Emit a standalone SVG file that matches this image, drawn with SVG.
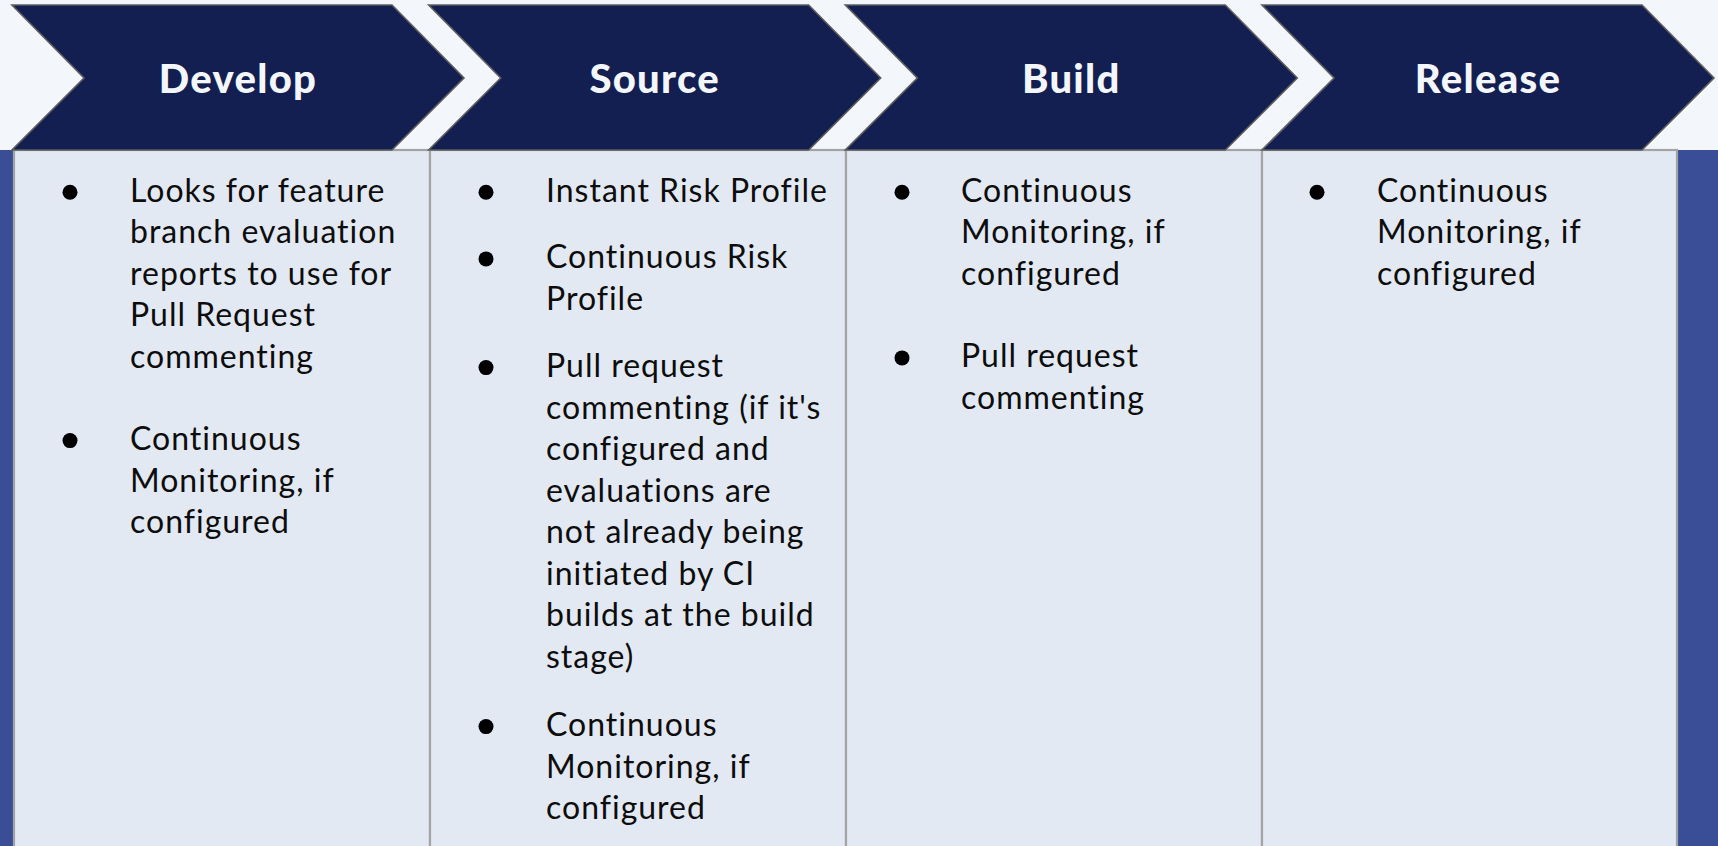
<svg xmlns="http://www.w3.org/2000/svg" width="1718" height="846" viewBox="0 0 1718 846">
<style>
.chev{fill:#131f50;stroke:#5e5e5e;stroke-width:1.6;stroke-linejoin:miter}
.head{font-family:Lato,"Liberation Sans",sans-serif;font-weight:900;font-size:40px;letter-spacing:1.3px;fill:#f3f7fc;text-anchor:middle}
.cell{fill:#e2e9f3;stroke:#a3a3a3;stroke-width:2.2}
.body{font-family:Lato,"Liberation Sans",sans-serif;font-size:32px;letter-spacing:1px;fill:#0d0d0d}
.dot{fill:#000}
</style>
<defs>
<path id="chevshape" d="M0,5 L380,5 L452,78 L380,150 L0,150 L72,78 Z"/>
</defs>
<rect x="0" y="0" width="1718" height="846" fill="#f3f7fc"/>
<rect x="0" y="150" width="1718" height="696" fill="#3a4e97"/>
<g id="connectors"></g>
<g id="col-develop">
<rect class="cell" x="14" y="150" width="416" height="700"/>
<circle class="dot" cx="70" cy="192.3" r="7.5"/>
<text class="body"><tspan x="130" y="201.7">Looks for feature</tspan><tspan x="130" y="243.2">branch evaluation</tspan><tspan x="130" y="284.7">reports to use for</tspan><tspan x="130" y="326.2">Pull Request</tspan><tspan x="130" y="367.7">commenting</tspan></text>
<circle class="dot" cx="70" cy="440.6" r="7.5"/>
<text class="body"><tspan x="130" y="450">Continuous</tspan><tspan x="130" y="491.5">Monitoring, if</tspan><tspan x="130" y="533">configured</tspan></text>
</g>
<g id="col-source">
<rect class="cell" x="430" y="150" width="416" height="700"/>
<circle class="dot" cx="486" cy="192.3" r="7.5"/>
<text class="body"><tspan x="546" y="201.7">Instant Risk Profile</tspan></text>
<circle class="dot" cx="486" cy="258.9" r="7.5"/>
<text class="body"><tspan x="546" y="268.3">Continuous Risk</tspan><tspan x="546" y="309.8">Profile</tspan></text>
<circle class="dot" cx="486" cy="367.6" r="7.5"/>
<text class="body"><tspan x="546" y="377">Pull request</tspan><tspan x="546" y="418.5">commenting (if it's</tspan><tspan x="546" y="460">configured and</tspan><tspan x="546" y="501.5">evaluations are</tspan><tspan x="546" y="543">not already being</tspan><tspan x="546" y="584.5">initiated by CI</tspan><tspan x="546" y="626">builds at the build</tspan><tspan x="546" y="667.5">stage)</tspan></text>
<circle class="dot" cx="486" cy="726.6" r="7.5"/>
<text class="body"><tspan x="546" y="736">Continuous</tspan><tspan x="546" y="777.5">Monitoring, if</tspan><tspan x="546" y="819">configured</tspan></text>
</g>
<g id="col-build">
<rect class="cell" x="846" y="150" width="416" height="700"/>
<circle class="dot" cx="902" cy="192.3" r="7.5"/>
<text class="body"><tspan x="961" y="201.7">Continuous</tspan><tspan x="961" y="243.2">Monitoring, if</tspan><tspan x="961" y="284.7">configured</tspan></text>
<circle class="dot" cx="902" cy="357.9" r="7.5"/>
<text class="body"><tspan x="961" y="367.3">Pull request</tspan><tspan x="961" y="408.8">commenting</tspan></text>
</g>
<g id="col-release">
<rect class="cell" x="1262" y="150" width="415" height="700"/>
<circle class="dot" cx="1317" cy="192.3" r="7.5"/>
<text class="body"><tspan x="1377" y="201.7">Continuous</tspan><tspan x="1377" y="243.2">Monitoring, if</tspan><tspan x="1377" y="284.7">configured</tspan></text>
</g>
<g id="stage-develop">
<use href="#chevshape" class="chev" x="12"/>
<text class="head" x="238" y="93">Develop</text>
</g>
<g id="stage-source">
<use href="#chevshape" class="chev" x="428.7"/>
<text class="head" x="654.7" y="93">Source</text>
</g>
<g id="stage-build">
<use href="#chevshape" class="chev" x="845.3"/>
<text class="head" x="1071.3" y="93">Build</text>
</g>
<g id="stage-release">
<use href="#chevshape" class="chev" x="1262"/>
<text class="head" x="1488" y="93">Release</text>
</g>
</svg>
